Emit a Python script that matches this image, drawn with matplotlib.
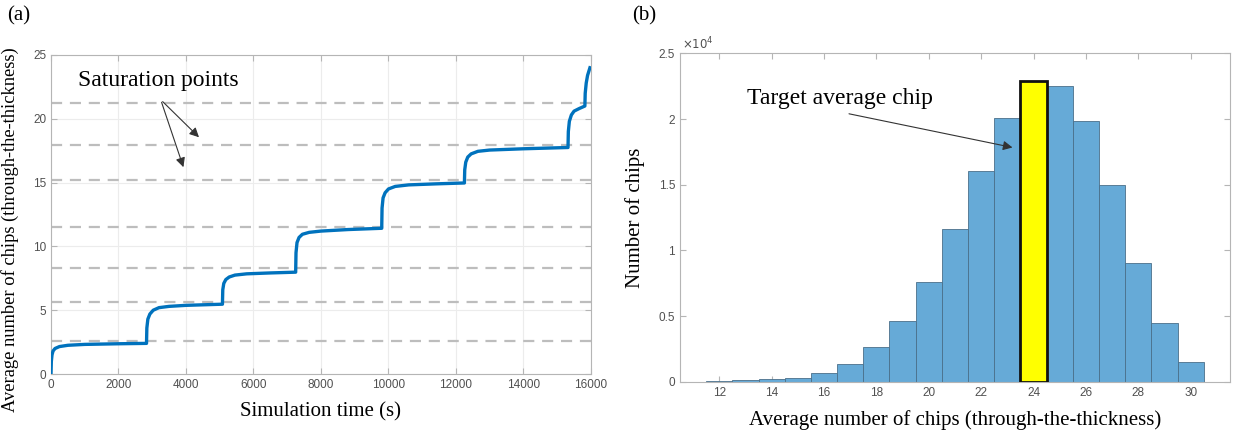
import numpy as np
import matplotlib.pyplot as plt

# (a) average number of chips vs simulation time
sim_time = [0, 10, 30, 60, 120, 250, 500, 1000, 2000, 2830,
            2840, 2870, 2930, 3030, 3200, 3500, 4000, 4600, 5080,
            5090, 5120, 5180, 5280, 5450, 5800, 6500, 7250,
            7260, 7290, 7350, 7450, 7650, 8000, 8800, 9800,
            9810, 9840, 9900, 10000, 10200, 10600, 11400, 12250,
            12260, 12290, 12350, 12450, 12650, 13000, 14000, 15320,
            15330, 15360, 15420, 15500, 15650, 15820,
            15830, 15860, 15900, 15970]
avg_chips = [0, 1.0, 1.5, 1.8, 2.0, 2.15, 2.25, 2.32, 2.37, 2.40,
             3.6, 4.3, 4.7, 5.0, 5.2, 5.3, 5.38, 5.43, 5.47,
             6.6, 7.1, 7.4, 7.6, 7.75, 7.85, 7.92, 7.98,
             9.5, 10.3, 10.7, 10.95, 11.1, 11.2, 11.32, 11.42,
             13.0, 13.8, 14.2, 14.5, 14.7, 14.82, 14.9, 14.97,
             16.0, 16.6, 17.0, 17.25, 17.45, 17.55, 17.65, 17.75,
             19.0, 19.8, 20.3, 20.6, 20.8, 21.0,
             22.0, 22.8, 23.4, 24.0]
saturation_levels = [2.6, 5.67, 8.28, 11.55, 15.2, 17.97, 21.2]

# (b) histogram of average number of chips
bin_centers = [12, 13, 14, 15, 16, 17, 18, 19, 20, 21, 22, 23, 24, 25, 26, 27, 28, 29, 30]
bin_counts = [50, 100, 200, 300, 640, 1350, 2660, 4640, 7600, 11600, 16060, 20070,
              22880, 22560, 19840, 14970, 9060, 4440, 1520]
target_bin = 24

serif = ['Liberation Serif', 'DejaVu Serif']
sans = ['Liberation Sans', 'DejaVu Sans']
tick_col = '#505050'
spine_col = '#b5b5b5'

fig = plt.figure(figsize=(12.35, 4.36), dpi=100)

def style_axes(ax):
    for s in ax.spines.values():
        s.set_color(spine_col)
        s.set_linewidth(0.8)
    ax.tick_params(direction='in', top=True, right=True, length=4,
                   color=spine_col, labelcolor=tick_col, labelsize=8.5)
    for lab in ax.get_xticklabels() + ax.get_yticklabels():
        lab.set_family(sans)

# ---- (a) ----
ax1 = fig.add_axes([0.0413, 0.1422, 0.4372, 0.7317])
for lvl in saturation_levels:
    ax1.axhline(lvl, color='#bdbdbd', lw=1.6, ls=(0, (5, 3.5)), zorder=1)
ax1.plot(sim_time, avg_chips, color='#0072BD', lw=2.4, zorder=3)
ax1.set_xlim(0, 16000)
ax1.set_ylim(0, 25)
ax1.set_xticks(np.arange(0, 16001, 2000))
ax1.set_yticks([0, 5, 10, 15, 20, 25])
ax1.grid(True, color='#ececec', lw=0.8, zorder=0)
ax1.set_axisbelow(True)
style_axes(ax1)
ax1.set_xlabel('Simulation time (s)', family=serif, fontsize=15, labelpad=8)
ax1.set_ylabel('Average number of chips (through-the-thickness)', family=serif, fontsize=13.3)
ax1.yaxis.set_label_coords(-0.059, 0.451)

ax1.text(800, 23.0, 'Saturation points', family=serif, fontsize=17, va='center', ha='left')
arrow_kw = dict(arrowstyle='-|>', color='#333333', lw=0.8, mutation_scale=14)
ax1.annotate('', xy=(4444, 18.4), xytext=(3250, 21.5), arrowprops=arrow_kw)
ax1.annotate('', xy=(3950, 16.0), xytext=(3250, 21.5), arrowprops=arrow_kw)

# ---- (b) ----
ax2 = fig.add_axes([0.5506, 0.1245, 0.4453, 0.7528])
colors = ['#FFFF00' if c == target_bin else '#66AAD7' for c in bin_centers]
ax2.bar(bin_centers, bin_counts, width=1.0, color=colors, edgecolor='#4a6f8a', lw=0.6, zorder=2)
ti = bin_centers.index(target_bin)
ax2.bar([bin_centers[ti]], [bin_counts[ti]], width=1.0, color='#FFFF00', edgecolor='#111111', lw=2, zorder=3)
ax2.set_xlim(10.5, 31.5)
ax2.set_ylim(0, 25000)
ax2.set_xticks(np.arange(12, 31, 2))
ax2.set_yticks([0, 5000, 10000, 15000, 20000, 25000])
ax2.set_yticklabels(['0', '0.5', '1', '1.5', '2', '2.5'])
style_axes(ax2)
ax2.text(0.003, 1.005, r'$\times10^4$', transform=ax2.transAxes, fontsize=8.5, color=tick_col,
         family=sans, ha='left', va='bottom')
ax2.set_xlabel('Average number of chips (through-the-thickness)', family=serif, fontsize=15, labelpad=8)
ax2.set_ylabel('Number of chips', family=serif, fontsize=15)
ax2.yaxis.set_label_coords(-0.064, 0.5)

ax2.text(13.05, 21600, 'Target average chip', family=serif, fontsize=17, va='center', ha='left')
ax2.annotate('', xy=(23.3, 17800), xytext=(16.85, 20450),
             arrowprops=dict(arrowstyle='-|>', color='#333333', lw=0.8, mutation_scale=14))

fig.text(0.006, 0.963, '(a)', family=serif, fontsize=15, va='center')
fig.text(0.512, 0.963, '(b)', family=serif, fontsize=15, va='center')

fig.savefig('out.png', dpi=100)
